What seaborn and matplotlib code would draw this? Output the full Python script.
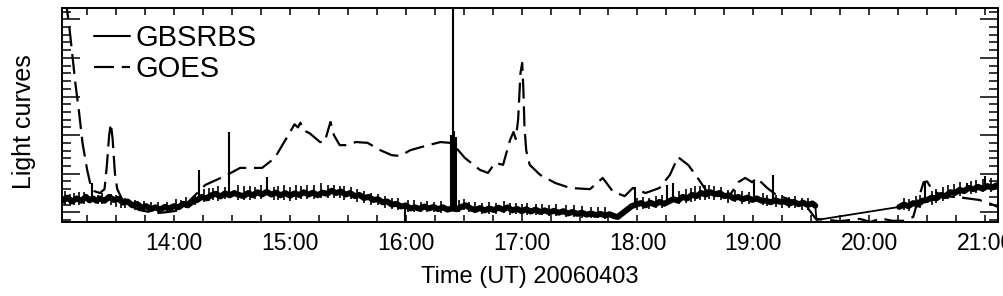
import matplotlib
matplotlib.use("Agg")
import matplotlib.pyplot as plt
from matplotlib.ticker import MultipleLocator, FuncFormatter
import seaborn as sns
import pandas as pd

# ---------------- data (hours UT, arbitrary flux units) ----------------
# GBSRBS: noisy baseline (read about every 2.4 min, with the visible jitter)
gbs_t = [13.04, 13.08, 13.12, 13.16, 13.20, 13.24, 13.27, 13.30, 13.33, 13.36,
         13.40, 13.44, 13.48, 13.52, 13.56, 13.60, 13.64, 13.68, 13.72, 13.76,
         13.80, 13.84, 13.88, 13.92, 13.96, 14.00, 14.04, 14.08, 14.12, 14.16,
         14.20, 14.24, 14.28, 14.32, 14.36, 14.40, 14.44, 14.48, 14.52, 14.56,
         14.60, 14.64, 14.68, 14.72, 14.76, 14.80, 14.84, 14.88, 14.92, 14.96,
         15.00, 15.04, 15.08, 15.12, 15.16, 15.20, 15.24, 15.28, 15.32, 15.36,
         15.40, 15.44, 15.48, 15.52, 15.56, 15.60, 15.64, 15.68, 15.72, 15.76,
         15.80, 15.84, 15.88, 15.92, 15.96, 16.00, 16.04, 16.08, 16.12, 16.16,
         16.20, 16.24, 16.28, 16.32, 16.36, 16.40, 16.44, 16.48, 16.52, 16.56,
         16.60, 16.64, 16.68, 16.72, 16.76, 16.80, 16.84, 16.88, 16.92, 16.96,
         17.00, 17.04, 17.08, 17.12, 17.16, 17.20, 17.24, 17.28, 17.32, 17.36,
         17.40, 17.44, 17.48, 17.52, 17.56, 17.60, 17.64, 17.68, 17.72, 17.76,
         17.80, 17.83, 17.95, 17.99, 18.03, 18.07, 18.11, 18.15, 18.19, 18.23,
         18.27, 18.31, 18.35, 18.39, 18.43, 18.47, 18.51, 18.55, 18.59, 18.63,
         18.67, 18.71, 18.75, 18.79, 18.83, 18.87, 18.91, 18.95, 18.99, 19.03,
         19.07, 19.11, 19.15, 19.19, 19.23, 19.27, 19.31, 19.35, 19.39, 19.43,
         19.47, 19.51, 19.535, 20.26, 20.30, 20.34, 20.38, 20.42, 20.46,
         20.50, 20.54, 20.58, 20.62, 20.66, 20.70, 20.74, 20.78, 20.82, 20.86,
         20.90, 20.94, 20.98, 21.02, 21.06, 21.10, 21.12]
gbs_v = [0.30, 0.38, 0.28, 0.36, 0.30, 0.40, 0.31, 0.36, 0.30, 0.36,
         0.30, 0.40, 0.32, 0.35, 0.25, 0.28, 0.18, 0.22, 0.12, 0.16,
         0.08, 0.13, 0.07, 0.14, 0.10, 0.16, 0.13, 0.22, 0.18, 0.28,
         0.32, 0.40, 0.36, 0.44, 0.48, 0.41, 0.49, 0.44, 0.50, 0.45,
         0.42, 0.50, 0.44, 0.52, 0.46, 0.53, 0.46, 0.51, 0.44, 0.50,
         0.43, 0.49, 0.45, 0.52, 0.46, 0.51, 0.44, 0.51, 0.48, 0.56,
         0.50, 0.54, 0.46, 0.50, 0.42, 0.45, 0.37, 0.40, 0.32, 0.34,
         0.26, 0.28, 0.20, 0.22, 0.15, 0.18, 0.10, 0.13, 0.09, 0.15,
         0.10, 0.14, 0.08, 0.13, 0.07, 0.10, 0.08, 0.14, 0.18, 0.10,
         0.06, 0.11, 0.05, 0.10, 0.06, 0.12, 0.07, 0.13, 0.05, 0.09,
         0.03, 0.08, 0.02, 0.07, 0.01, 0.05, 0.00, 0.04, -0.01, 0.03,
         -0.03, 0.01, -0.04, -0.01, -0.06, -0.03, -0.07, -0.04, -0.08, -0.05,
         -0.10, -0.12, 0.16, 0.20, 0.24, 0.18, 0.25, 0.20, 0.27, 0.22,
         0.28, 0.34, 0.30, 0.40, 0.36, 0.45, 0.42, 0.50, 0.46, 0.52,
         0.47, 0.50, 0.42, 0.44, 0.36, 0.40, 0.34, 0.38, 0.32, 0.36,
         0.30, 0.30, 0.26, 0.31, 0.27, 0.28, 0.22, 0.27, 0.21, 0.25,
         0.19, 0.23, 0.17, 0.14, 0.20, 0.16, 0.24, 0.20, 0.30,
         0.32, 0.38, 0.36, 0.45, 0.42, 0.52, 0.50, 0.58, 0.55, 0.63,
         0.60, 0.66, 0.61, 0.68, 0.64, 0.70, 0.66]

# GBSRBS data gap (drawn as a plain connecting line)
gap_t = [19.535, 19.545, 20.26]
gap_v = [0.17, -0.20, 0.14]

# GBSRBS isolated spikes: time, foot level, tip level
spike_t = [13.29, 14.215, 14.475, 14.80, 15.99, 16.39, 16.40, 16.41, 16.42,
           16.43, 17.975, 18.255, 18.31, 19.005, 19.17, 20.48, 20.845, 21.00]
spike_lo = [0.33, 0.40, 0.48, 0.50, 0.12, 0.08, 0.08, 0.08, 0.08,
            0.08, 0.18, 0.26, 0.33, 0.34, 0.30, 0.28, 0.62, 0.66]
spike_hi = [0.76, 1.10, 2.08, 0.91, -0.25, 2.00, 1.90, 6.00, 2.10,
            1.95, 0.66, 0.71, 0.76, 0.84, 0.97, 0.81, 0.76, 0.95]

# GBSRBS small noise excursions around the baseline
noise_t = [13.06, 13.14, 13.22, 13.38, 13.50, 13.58, 13.74, 13.86, 14.02, 14.10,
           14.30, 14.38, 14.55, 14.66, 14.75, 14.86, 14.95, 15.05, 15.15, 15.27,
           15.38, 15.47, 15.58, 15.70, 15.82, 15.93, 16.07, 16.18, 16.30, 16.50,
           16.60, 16.72, 16.85, 16.95, 17.05, 17.18, 17.30, 17.45, 17.60, 17.72,
           18.05, 18.16, 18.42, 18.50, 18.58, 18.66, 18.78, 18.90, 19.08, 19.25,
           19.36, 19.47, 20.30, 20.40, 20.58, 20.68, 20.78, 20.92, 21.05]
noise_lo = [0.18, 0.20, 0.22, 0.22, 0.15, 0.10, 0.00, 0.00, 0.05, 0.10,
            0.30, 0.30, 0.32, 0.32, 0.35, 0.33, 0.32, 0.33, 0.34, 0.36,
            0.38, 0.32, 0.28, 0.20, 0.12, 0.05, 0.00, 0.00, -0.02, 0.05,
            -0.03, -0.04, -0.03, -0.05, -0.07, -0.08, -0.10, -0.12, -0.15, -0.17,
            0.08, 0.10, 0.25, 0.30, 0.33, 0.33, 0.25, 0.22, 0.18, 0.12,
            0.10, 0.05, 0.05, 0.10, 0.25, 0.35, 0.42, 0.50, 0.52]
noise_hi = [0.55, 0.50, 0.52, 0.50, 0.45, 0.38, 0.30, 0.28, 0.35, 0.40,
            0.62, 0.68, 0.70, 0.68, 0.72, 0.66, 0.70, 0.70, 0.72, 0.75,
            0.72, 0.68, 0.60, 0.50, 0.42, 0.36, 0.32, 0.30, 0.30, 0.35,
            0.27, 0.28, 0.30, 0.25, 0.25, 0.22, 0.22, 0.20, 0.15, 0.13,
            0.40, 0.42, 0.60, 0.68, 0.70, 0.68, 0.58, 0.55, 0.50, 0.45,
            0.42, 0.38, 0.38, 0.42, 0.60, 0.70, 0.78, 0.85, 0.88]

# more of the band's fine noise (second reading, in between the first)
noise2_t = [13.10, 13.18, 13.34, 13.46, 13.54, 13.66, 13.80, 13.94, 14.06, 14.18,
            14.26, 14.34, 14.44, 14.60, 14.70, 14.90, 15.00, 15.10, 15.21, 15.33,
            15.43, 15.53, 15.64, 15.76, 15.88, 16.02, 16.13, 16.24, 16.46, 16.55,
            16.66, 16.78, 16.90, 17.00, 17.12, 17.24, 17.38, 17.52, 17.66, 18.00,
            18.10, 18.21, 18.36, 18.46, 18.54, 18.62, 18.72, 18.84, 18.96, 19.12,
            19.20, 19.31, 19.42, 20.34, 20.44, 20.54, 20.64, 20.73, 20.88, 20.98]
noise2_lo = [0.20, 0.18, 0.22, 0.20, 0.12, 0.06, 0.00, 0.00, 0.08, 0.18,
             0.28, 0.32, 0.34, 0.32, 0.34, 0.32, 0.30, 0.34, 0.34, 0.36,
             0.36, 0.34, 0.24, 0.18, 0.08, 0.02, 0.00, 0.00, 0.02, 0.00,
             -0.05, -0.04, -0.06, -0.07, -0.07, -0.09, -0.12, -0.14, -0.16, 0.05,
             0.08, 0.12, 0.22, 0.28, 0.33, 0.35, 0.32, 0.26, 0.22, 0.16,
             0.14, 0.10, 0.06, 0.04, 0.12, 0.20, 0.30, 0.38, 0.47, 0.52]
noise2_hi = [0.48, 0.52, 0.46, 0.48, 0.40, 0.32, 0.26, 0.27, 0.33, 0.46,
             0.60, 0.64, 0.66, 0.68, 0.66, 0.68, 0.66, 0.68, 0.70, 0.72,
             0.68, 0.66, 0.54, 0.48, 0.38, 0.32, 0.28, 0.28, 0.32, 0.28,
             0.24, 0.25, 0.24, 0.22, 0.22, 0.20, 0.18, 0.16, 0.14, 0.36,
             0.38, 0.44, 0.56, 0.62, 0.68, 0.70, 0.66, 0.58, 0.52, 0.46,
             0.44, 0.40, 0.36, 0.34, 0.44, 0.54, 0.66, 0.74, 0.82, 0.86]

goes_t = [13.05, 13.07, 13.10, 13.125, 13.15, 13.18, 13.21, 13.25, 13.28, 13.31,
          13.36, 13.40, 13.42, 13.44, 13.455, 13.47, 13.49, 13.51, 13.55, 13.62,
          13.70, 13.77, 13.85, 13.92, 14.00, 14.05, 14.14, 14.27, 14.44, 14.57,
          14.76, 14.87, 14.98, 15.04, 15.07, 15.09, 15.12, 15.17, 15.26, 15.30,
          15.35, 15.38, 15.43, 15.48, 15.57, 15.67, 15.78, 15.88, 15.95, 16.04,
          16.17, 16.30, 16.38, 16.43, 16.51, 16.64, 16.71, 16.77, 16.84, 16.90,
          16.93, 16.95, 16.97, 16.99, 17.005, 17.015, 17.025, 17.04, 17.07, 17.16,
          17.29, 17.42, 17.59, 17.70, 17.79, 17.89, 17.96, 18.07, 18.19, 18.28,
          18.35, 18.44, 18.52, 18.59, 18.69, 18.80, 18.87, 18.93, 18.99, 19.03,
          19.12, 19.19, 19.32, 19.45, 19.54, 19.75, 19.92, 20.01, 20.10, 20.20,
          20.30, 20.38, 20.42, 20.47, 20.50, 20.55, 20.65, 20.80, 20.95, 21.05,
          21.11]
goes_v = [5.60, 5.40, 4.70, 4.00, 3.30, 2.60, 1.80, 1.10, 0.70, 0.55,
          0.50, 0.60, 1.20, 2.00, 2.30, 1.90, 1.00, 0.60, 0.35, 0.18,
          0.06, 0.02, -0.02, 0.00, 0.03, 0.06, 0.32, 0.71, 0.94, 1.15,
          1.15, 1.41, 1.97, 2.28, 2.20, 2.32, 2.12, 2.05, 1.82, 1.82,
          2.34, 2.00, 1.74, 1.74, 1.82, 1.80, 1.61, 1.48, 1.46, 1.61,
          1.72, 1.82, 1.80, 1.69, 1.41, 1.10, 1.02, 1.28, 1.23, 1.87,
          2.08, 1.90, 2.40, 3.60, 3.87, 3.20, 2.20, 1.60, 1.23, 0.97,
          0.76, 0.63, 0.60, 0.89, 0.53, 0.42, 0.63, 0.50, 0.63, 0.97,
          1.43, 1.22, 0.89, 0.58, 0.42, 0.45, 0.78, 0.89, 0.78, 0.89,
          0.63, 0.47, 0.32, 0.19, -0.17, -0.23, -0.17, -0.25, -0.16, -0.22,
          -0.22, -0.12, 0.30, 0.78, 0.80, 0.55, 0.42, 0.38, 0.32, 0.22,
          0.14]

hour_ticks = [14, 15, 16, 17, 18, 19, 20, 21]
series_names = ["GBSRBS", "GOES"]

# ---------------- style ----------------
sns.set_style("white")
plt.rcParams["font.family"] = ["Liberation Sans", "DejaVu Sans"]
plt.rcParams["text.color"] = "black"
plt.rcParams["axes.labelcolor"] = "black"
plt.rcParams["xtick.color"] = "black"
plt.rcParams["ytick.color"] = "black"

fig = plt.figure(figsize=(10.04, 2.96), dpi=100)
ax = fig.add_axes([62 / 1004, 1 - 222 / 296, 936 / 1004, 214 / 296])

gbs_df = pd.DataFrame({"t": gbs_t, "v": gbs_v})
goes_df = pd.DataFrame({"t": goes_t, "v": goes_v})
gap_df = pd.DataFrame({"t": gap_t, "v": gap_v})

sns.lineplot(data=gbs_df[gbs_df["t"] < gap_t[1]], x="t", y="v", ax=ax,
             color="black", lw=4.3, sort=False, estimator=None,
             label=series_names[0])
sns.lineplot(data=gbs_df[gbs_df["t"] >= gap_t[2]], x="t", y="v", ax=ax,
             color="black", lw=4.3, sort=False, estimator=None)
sns.lineplot(data=gap_df, x="t", y="v", ax=ax, color="black", lw=1.3,
             sort=False, estimator=None)
ax.vlines(noise_t, noise_lo, noise_hi, color="black", lw=1.2)
ax.vlines(noise2_t, noise2_lo, noise2_hi, color="black", lw=1.2)
ax.vlines(spike_t, spike_lo, spike_hi, color="black", lw=1.5)
sns.lineplot(data=goes_df, x="t", y="v", ax=ax, color="black", lw=1.6,
             sort=False, estimator=None, label=series_names[1],
             linestyle=(0, (9, 3.5)))

ax.set_xlim(13.033, 21.112)
ax.set_ylim(-0.251, 5.293)

ax.set_xticks(hour_ticks)
ax.xaxis.set_major_formatter(FuncFormatter(lambda v, p: f"{int(round(v)):02d}:00"))
ax.xaxis.set_minor_locator(MultipleLocator(0.25))
ax.yaxis.set_major_locator(MultipleLocator(1))
ax.yaxis.set_minor_locator(MultipleLocator(0.2))
ax.set_yticklabels([])

ax.tick_params(axis="x", which="both", direction="in", top=True, bottom=True,
               length=5, width=1.1, labelsize=16.5, pad=7)
ax.tick_params(axis="y", which="major", direction="in", left=True, right=True,
               length=13, width=1.1)
ax.tick_params(axis="y", which="minor", direction="in", left=True, right=True,
               length=6.5, width=1.1)
for s in ax.spines.values():
    s.set_linewidth(1.4)
    s.set_color("black")

ax.set_xlabel("Time (UT) 20060403", fontsize=17, labelpad=8)
ax.set_ylabel("Light curves", fontsize=18)
ax.yaxis.set_label_coords(-0.028, 0.467)

leg = ax.legend(loc="upper left", frameon=False, fontsize=21, handlelength=1.25,
                handletextpad=0.2, labelspacing=0.1, borderaxespad=0.3,
                bbox_to_anchor=(0.012, 1.02))
leg.get_lines()[0].set_linewidth(1.5)
leg.get_lines()[1].set_linewidth(1.6)

fig.savefig("out.png", dpi=100)
